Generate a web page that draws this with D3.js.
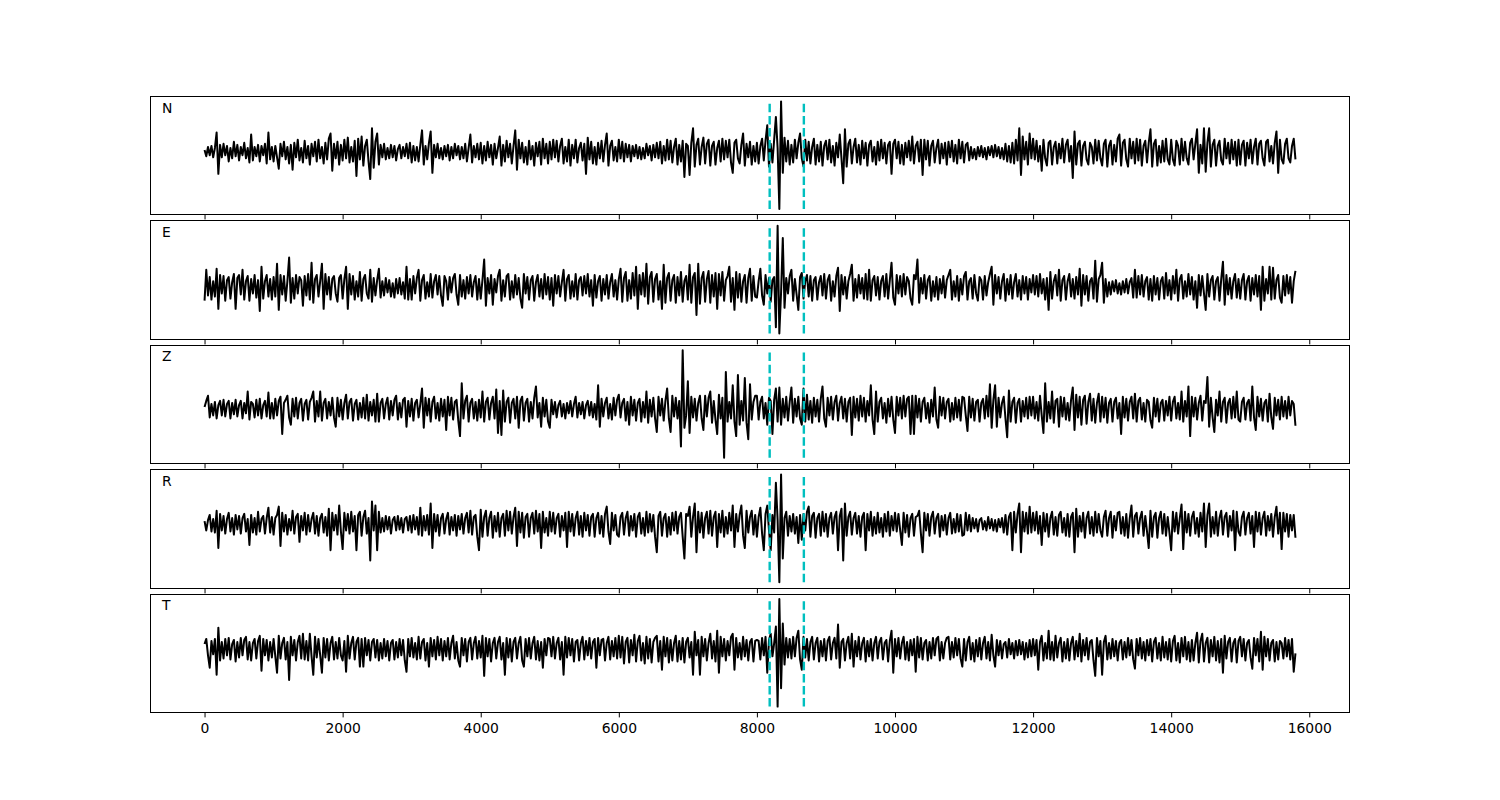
<!DOCTYPE html>
<html><head><meta charset="utf-8">
<script src="https://cdn.jsdelivr.net/npm/d3@7"></script>
<style>body{margin:0;background:#fff}svg{display:block}</style>
</head><body>
<svg id="c" width="1500" height="800"></svg>
<script>
const channels = ["N", "E", "Z", "R", "T"];
const sampleStep = 25;   // time units between stored samples
const picks = [8185, 8680];
const xTicks = [0, 2000, 4000, 6000, 8000, 10000, 12000, 14000, 16000];

// each row = 1000 time units (40 samples); last row 15000..15800
const rowsN = [
 [2,-4,5,-3,6,-5,4,19,-21,7, -5,8,-3,6,-9,4,-6,10,-4,7, -8,5,-3,9,-6,4,-10,17,-8,5, -4,7,-9,6,-3,8,-11,19,-7,5],
 [-9,6,-5,-16,8,-4,10,-7,5,-11, 7,-17,9,-5,12,-8,4,-10,11,-6, 6,-12,8,-4,10,-9,12,-6,5,-11, 9,-7,13,18,-18,8,-6,10,-12,7],
 [-8,12,-6,14,-10,5,-9,11,-23,13, -7,15,-13,6,12,-9,-26,23,-15,10, 18,-12,7,-5,8,-7,4,-6,7,-5, 6,-8,3,7,-6,5,-4,8,-6,9],
 [-10,6,-8,5,-9,7,21,-12,6,-7, 9,20,-20,7,-5,8,-6,4,-7,6, -4,7,-8,5,-6,8,-3,6,-7,5, -6,8,-9,4,17,-10,6,-5,8,-7],
 [9,-11,6,-8,10,-5,7,-12,8,-6, 4,15,-13,7,-9,11,-5,8,-11,6, 21,-17,12,-6,9,-10,5,-12,11,-7, 6,-13,9,-4,10,-12,13,-6,8,-11],
 [10,-7,12,-5,11,-9,6,13,-11,5, -9,12,-13,7,-6,12,-10,4,9,-8, 8,-21,14,-7,10,-11,5,-12,9,-6, 11,-9,7,18,-13,6,11,-8,5,-9],
 [12,-6,10,-9,8,-5,7,-9,6,-4, 7,-6,5,-7,4,-6,8,-3,6,-8, 7,-5,9,-6,10,-11,6,-8,12,-7, 11,-10,5,13,-12,7,-9,11,-24,8],
 [6,-22,9,23,-14,7,13,-12,5,14, -11,8,12,-13,6,10,-12,4,11,-9, 13,-7,11,-5,12,-10,-20,9,12,-6, -11,7,18,-13,8,-5,10,-12,6,-9],
 [9,-11,6,13,-8,11,26,-14,8,-10, 12,34,4,-55,49,-20,14,-9,11,-12, 7,-10,12,-6,9,18,-6,-14,12,-8, 10,-11,5,13,-12,7,-9,10,-13,6],
 [11,-7,12,-10,6,-13,9,-5,17,-6, -30,22,-14,8,12,-11,5,13,-10,7, -12,11,-6,9,-13,7,11,-9,5,-12, 10,-8,12,-6,9,-11,7,10,-21,8],
 [12,-6,10,-11,7,-12,9,-5,11,-8, 15,-11,6,10,-9,12,-22,12,-7,11, -13,6,11,-10,4,12,-11,8,-6,9, -12,10,-5,11,-9,7,-11,12,-6,10],
 [-10,7,9,-8,5,-6,3,-7,5,-4, 6,-5,4,-7,5,-3,6,-5,7,-4, 5,-6,4,-7,8,-9,6,-10,9,-11, 12,-8,23,-22,15,-7,10,-12,18,-6],
 [13,-7,11,-9,6,-18,12,-6,-13,9, 11,-12,5,10,-11,8,-6,13,-10,7, 12,-9,6,-25,20,-12,8,11,-13,6, 10,-7,-12,9,5,-11,12,-8,11,-6],
 [-13,8,12,-14,6,11,-12,7,-9,13, 17,-13,9,12,-7,-14,13,-6,10,-11, 13,-8,12,-13,6,11,-10,9,22,-14, 8,12,-13,6,-10,11,-9,13,-7,-12],
 [12,-7,-13,11,6,-12,13,-8,10,-6, -12,9,13,-7,8,22,-20,7,-11,23, -19,9,23,-14,7,12,-13,6,11,-8, -12,13,-6,9,-11,12,-7,10,-13,12],
 [-12,7,11,-13,9,-6,12,-11,5,13, -12,8,11,-6,-13,10,12,-9,6,-11, 9,20,-20,12,-7,-11,8,13,-6,-10, 6,13,-7]
];
const rowsE = [
 [-13,17,-8,10,-12,6,-9,18,-21,12, -6,11,-13,7,10,-11,5,13,-21,9, 12,-7,17,-12,6,11,-13,8,-6,12, -10,7,-23,20,-11,6,12,-9,8,-12],
 [10,-9,23,-22,12,-7,11,-13,6,29, -15,9,-11,12,-6,10,7,-18,11,-8, 13,-12,24,-15,8,12,-9,6,23,-21, 13,-7,10,-12,8,11,-6,-14,9,12],
 [-11,8,20,-21,13,-7,11,-12,6,-9, 15,-13,8,12,-6,-11,17,-14,9,-8, 7,18,-10,6,-8,9,-5,7,-9,4, -10,8,-6,9,-7,5,-11,20,-12,8],
 [-12,11,-6,9,17,-13,7,12,-11,5, -9,13,-10,6,12,-7,11,-8,-18,11, 6,-12,10,-5,9,13,-7,-17,12,-9, 7,-11,10,-6,12,-9,5,11,-12,8],
 [-11,7,27,-18,9,-6,12,-17,8,-5, 11,17,-13,7,-9,11,13,-12,6,-10, 12,-7,9,-11,-20,13,-6,10,-12,7, 11,-13,5,12,-9,8,-11,13,-7,10],
 [-12,9,-18,12,-6,11,-9,5,17,-13, 8,12,-11,6,-9,13,-12,7,10,-8, 11,-6,13,-9,7,-18,12,-10,6,11, -13,8,-7,12,-11,5,13,-9,7,-12],
 [8,18,-14,9,15,-13,7,-11,14,-8, 20,-21,12,-7,14,-9,23,-16,10,15, -14,8,13,-12,6,-21,22,-15,9,14, -13,7,12,-15,10,-8,15,-14,6,11],
 [-12,22,-15,10,14,-27,23,-16,9,15, -14,8,16,-15,12,-9,14,-21,13,-8, 15,-13,7,11,20,-14,9,-22,15,-10, 13,-14,6,12,-15,9,18,-13,11,-9],
 [-10,6,18,-8,-17,12,-6,9,-14,7, 10,-39,60,-45,-5,48,-20,9,-6,11, 17,-13,8,-7,-22,10,14,-11,6,12, -9,11,-13,7,10,-12,5,11,-8,13],
 [-11,7,12,-13,6,-9,11,19,-23,12, -7,10,-11,6,13,22,-13,8,-10,12, -6,9,-11,13,-12,17,-13,7,11,-8, 10,-12,6,11,-9,13,-11,7,24,-10],
 [-17,12,-6,11,-9,13,-7,10,6,-11, -17,12,8,27,-15,9,-6,12,-11,7, 11,-13,6,-9,10,-12,8,-6,11,-10, 7,12,17,-12,6,-9,11,-13,8,-7],
 [11,15,-12,6,9,-11,12,-6,-13,10, 7,-12,11,-8,5,13,20,-17,12,-6, 10,-11,6,13,-13,8,-7,12,-11,5, 13,-9,7,-12,11,-6,10,-12,8,-5],
 [12,-7,11,-9,13,-6,8,-12,9,-22, 15,-11,6,12,-8,17,-13,7,11,-12, 6,13,-9,8,-11,10,-7,18,-18,12, -7,11,-13,6,9,-11,26,-14,8,12],
 [24,-15,8,-9,5,-7,6,-4,7,-6, 4,-7,6,-5,8,-6,5,9,-10,17, -10,11,-7,12,-9,6,10,-12,8,-13, 11,-7,9,-12,6,10,-11,14,-8,7],
 [-12,11,-6,17,-13,8,12,-11,6,-9, 13,-7,10,-12,6,-20,12,-8,11,-6, -22,13,-9,7,11,-12,6,10,-13,8, 25,-17,12,-7,9,-11,6,13,-10,8],
 [-11,7,13,-12,6,11,-13,9,-7,12, -9,11,-22,20,-13,8,-6,20,-12,19, -11,7,12,-10,-15,11,-8,12,-6,10, -15,6,16]
];
const rowsZ = [
 [2,8,13,-8,5,-6,7,-9,4,8, -6,9,-7,5,8,-9,6,-5,9,-7, 4,8,-9,6,-4,17,-10,7,5,-8, 9,-6,10,-9,4,8,-7,16,-9,6],
 [-9,10,-6,8,12,-24,6,9,13,-8, -15,10,-7,11,-9,6,10,-11,5,9, -10,7,11,17,-12,8,-7,17,-11,6, 10,-9,7,-6,11,-8,-17,11,-7,9],
 [-10,6,14,-9,7,10,-11,5,9,-10, 6,-8,11,-9,14,-11,7,-6,9,-12, 15,-12,6,10,-9,5,11,-10,8,-6, 9,13,-10,6,-8,9,11,-17,8,-7],
 [10,-11,6,9,-8,5,20,-18,11,-6, 10,-12,7,12,-9,6,-11,10,-7,9, -20,12,-6,11,-10,7,9,-11,-26,25, -9,8,13,-12,6,10,-9,7,-11,9],
 [-8,17,-12,7,11,-10,6,12,-9,19, -23,8,-25,18,-12,7,11,-13,6,10, -9,12,-18,8,12,-11,6,10,-12,7, -9,11,22,-8,6,-17,11,-7,9,-12],
 [-18,9,-5,7,-8,4,8,-7,5,-9, 6,-4,8,-7,5,12,-8,6,-5,7, -9,4,8,-6,7,-8,5,-10,23,-17, 10,-7,6,11,-9,5,-10,11,-6,9],
 [14,-8,6,10,-11,7,-15,12,-6,9, -11,6,10,-12,7,-8,17,-13,9,-7, 11,-9,-22,12,-6,10,-11,8,20,-9, -22,13,-7,11,-9,8,-36,57,-18,-6],
 [27,-23,12,-8,10,-11,6,13,-9,-20, 13,-7,11,17,-13,8,-10,-24,14,-9, 11,-47,36,-12,7,-9,23,-12,-26,33, -15,8,-11,30,-13,-29,24,-10,7,13],
 [13,-10,7,12,-9,6,-15,11,8,-24, 9,20,-12,21,-15,10,-8,12,-11,7, 21,-13,10,-7,12,-9,-15,20,-12,14, -10,8,-13,11,-7,9,-12,10,22,-9],
 [-17,11,-6,12,-10,7,13,-11,6,12, -9,10,-12,7,11,-25,12,-8,10,-11, 13,-7,11,-12,8,-6,23,-10,-24,17, -12,7,11,-9,6,-13,10,-7,12,-10],
 [-23,12,-6,11,-9,13,-7,10,12,-24, 13,-24,13,-8,10,-12,7,11,-9,6, -13,9,-7,21,-10,-18,12,-6,11,-9, 7,10,-12,6,-10,11,-8,9,-11,12],
 [11,-6,-21,12,-8,10,-11,7,9,-12, 6,10,-9,13,-7,24,-18,9,23,-17, 11,-8,6,12,-9,-27,18,-12,7,11, -13,6,10,-12,8,-7,11,-9,12,-6],
 [12,-9,7,-11,13,-6,-23,25,-12,7, -9,17,-13,8,10,-17,12,-7,11,-10, 6,-11,9,21,-20,14,-8,12,-15,9, 13,-14,7,15,-11,10,-13,6,15,-12],
 [12,-8,11,-13,6,10,-12,7,11,-9, 6,-24,12,-8,10,-11,7,12,-9,15, -12,8,11,-10,6,-12,9,7,-11,-18, 11,-7,10,-12,6,9,-11,8,-6,12],
 [-11,7,12,-9,6,-10,17,-12,8,-7, 22,-26,12,-7,11,-10,6,13,-11,8, 6,31,-17,11,-8,-22,9,-6,17,-12, 7,11,-13,6,10,-9,12,-8,17,-10],
 [-12,7,11,-10,6,9,-11,22,-8,-20, 12,-7,10,-11,6,9,-12,15,-8,-19, 11,-6,9,-10,12,-7,8,-9,12,-6, 8,5,-16]
];
const rowsR = [
 [3,-6,4,9,-7,5,-8,13,-23,10, -6,8,-9,5,11,-7,6,-10,9,-5, 8,-9,6,10,-7,5,-20,9,-8,6, -10,12,-7,5,8,-9,6,16,-8,7],
 [-10,6,9,17,-21,11,-7,9,-10,5, -6,13,-9,7,10,-17,8,-6,11,-10, 9,-7,5,11,-9,8,-11,6,10,-8, 7,-11,15,-25,11,-6,9,-10,18,-7],
 [-24,11,-6,10,-9,12,-7,8,-25,9, 12,-11,7,13,-9,6,-35,22,-6,18, -25,12,-8,6,-7,8,-5,7,-9,4, 7,-6,8,-5,6,-8,5,7,-6,8],
 [-8,9,-5,7,-10,16,-11,8,-6,9, -10,20,-23,10,-7,9,-11,6,10,-9, 5,11,-10,7,-6,9,-11,8,-5,10, -9,6,11,-8,13,-10,7,9,-12,-25],
 [14,-12,7,13,-11,6,12,-13,8,-7, 11,-12,6,10,-11,13,-6,12,-9,7, 16,-21,12,-8,11,-13,7,10,-12,6, 11,-9,13,-7,10,-23,12,-8,6,-11],
 [12,-7,11,-9,6,10,-12,8,-6,11, -22,12,-7,10,-11,6,12,-10,8,-12, 11,-6,9,-11,7,10,-12,6,11,-9, 8,-12,10,17,-7,-19,11,-6,9,-10],
 [-12,7,11,-10,6,12,-11,8,-6,10, -12,7,11,-9,6,-11,12,-8,10,-7, 9,-12,-27,8,12,-11,6,10,-12,7, -10,11,-6,12,-9,7,11,-12,-33,10],
 [8,17,-12,7,20,-27,12,-8,11,-13, 6,12,-9,13,-11,7,12,-22,10,-8, 13,-12,7,-9,11,-6,18,-22,10,-7, 9,18,-11,-23,13,-8,7,13,-10,9],
 [-12,7,16,-9,-25,10,18,-6,-25,9, -8,40,4,-56,48,-33,6,12,-11,8, -7,10,-9,7,-18,9,-15,10,-6,12, 17,-12,8,11,-13,6,10,-11,12,-7],
 [10,-12,6,11,-9,7,12,-25,8,15, -35,20,-11,7,12,-10,6,11,-9,8, -12,7,11,-25,10,-6,12,-11,7,-9, 11,-8,6,-12,10,-7,12,-11,8,-6],
 [11,-7,10,-6,-20,11,-8,9,-12,6, 10,-11,7,8,13,-9,-27,11,-6,10, -11,7,12,-9,6,10,-12,8,-6,9, -10,6,11,-9,5,-8,10,-7,9,-11],
 [-10,11,-6,9,-7,6,-4,5,-7,4, 6,-5,3,-6,7,-4,5,-6,4,-7, 5,-3,6,-8,9,-10,7,11,-25,12, -8,10,20,-27,12,-7,11,-9,17,-8],
 [11,-6,12,-9,8,-20,11,-7,10,-12, 6,12,-10,7,-11,9,12,-8,6,-11, 10,-12,7,11,-27,15,-12,8,-7,11, -13,6,12,-9,7,-11,12,-8,10,-6],
 [-12,7,13,-11,6,12,-13,8,-6,11, 12,-9,7,-11,10,-13,6,18,-12,8, 11,-9,6,12,-11,8,-7,-23,13,-12, 7,11,-13,6,12,-9,10,-11,7,-8],
 [-25,12,-7,11,-9,6,19,-24,12,-8, 10,-11,7,12,-9,6,-12,11,-7,20, -22,9,20,-12,7,-9,12,-11,6,13, -10,7,11,-12,8,-6,13,-25,12,-7],
 [-11,7,12,-10,6,11,-9,8,-22,12, -7,11,-10,6,12,-11,8,-6,10,-12, 7,17,-9,11,-24,11,-7,10,-12,9, -6,9,-13]
];
const rowsT = [
 [5,10,-6,-18,8,-5,10,-25,21,-11, 7,-9,10,-6,11,-10,5,9,-12,7, -8,11,-6,9,12,-10,7,-11,6,10, -9,8,13,-21,10,-6,9,-11,7,-8],
 [10,-7,-23,13,-9,6,11,-10,7,-30, 12,-6,9,-11,7,13,-9,15,-10,8, -11,15,-7,-25,12,-8,10,-6,-23,11, -8,10,-11,6,12,-10,7,-9,11,-6],
 [-11,8,-22,13,-9,6,12,-10,7,11, -17,10,-17,11,-6,9,-11,7,10,-8, 9,-11,6,-9,10,-7,8,-11,6,9, -10,7,-8,10,-6,9,-11,-22,10,-7],
 [11,-8,6,-10,12,-9,7,10,-11,6, -17,11,-7,9,-10,12,-6,10,-11,8, -7,11,-10,6,13,-9,7,-11,-17,11, -6,10,-12,7,11,-10,6,12,-9,8],
 [-8,13,-26,11,-7,10,-12,6,11,-9, 7,12,-10,6,-25,11,-8,10,-12,7, 11,-9,6,12,-11,-17,10,-7,11,-9, 6,12,-10,8,-11,7,-18,10,-6,11],
 [10,-7,12,-9,6,11,-10,7,-25,12, -8,11,-6,10,-12,7,9,-11,6,12, -10,8,-6,11,-9,7,10,-18,11,-6, 9,10,-11,6,12,-10,8,-7,11,-9],
 [13,-8,12,-14,7,11,-13,9,-6,14, -12,8,13,-11,6,-14,12,-9,10,-13, 7,11,13,-12,8,-20,12,-7,11,-13, 9,-11,6,13,-12,8,-10,11,-13,7],
 [11,-8,7,-25,17,-6,9,-25,12,-7, 10,-11,6,15,-9,8,-12,18,-23,12, -7,10,-11,8,-6,12,15,-20,11,-8, 6,-10,12,-7,9,-11,7,10,-12,8],
 [9,8,-10,11,-6,12,-23,9,15,-7, 6,22,-56,49,-38,25,-15,11,-8,10, -9,12,-7,11,18,-10,-20,12,-8,10, -11,7,12,-10,6,11,-12,8,-7,10],
 [-11,8,12,-10,6,11,-9,24,-18,7, 10,-11,6,12,-9,15,-17,8,-7,12, -10,6,11,-12,8,-7,10,-11,6,12, -9,7,11,-10,6,9,-12,8,18,-23],
 [10,-7,11,-9,6,12,-10,7,-11,9, -6,10,-22,12,-8,11,-10,6,9,-11, 7,-9,11,-6,10,12,-11,7,-9,6, 11,12,-10,7,-8,11,-6,10,-9,-17],
 [10,-11,7,12,-10,6,-12,9,-7,11, -10,6,12,-9,7,-11,14,-6,-17,9, -6,8,-9,5,7,-8,10,-5,6,-9, 8,-6,9,-5,7,-10,6,-8,9,-7],
 [10,-6,9,-20,7,13,-11,6,-9,18, -10,7,-11,13,-8,6,11,-12,7,-9, 10,-11,6,12,-10,8,-7,15,-12,9, -6,11,-10,7,9,-11,-26,11,-7,8],
 [-25,7,13,-10,6,-9,10,-7,8,-11, 6,9,-10,7,-8,11,-6,9,-10,-19, 10,-6,11,-9,7,-11,9,-6,10,-12, 7,11,-9,6,-11,12,-8,7,-10,10],
 [-12,8,13,-11,6,-13,11,-7,12,-10, 7,-12,9,-11,6,16,-13,8,15,-12, 6,11,-13,9,-7,12,-11,8,-13,10, -23,13,-9,7,11,-12,6,10,-13,8],
 [12,-7,10,-11,6,9,-8,-19,11,-6, 10,-12,17,-20,12,-7,10,-11,6,9, -12,7,-10,8,6,-9,11,-7,9,-10, 10,-22,-4]
];
const allRows = [rowsN, rowsE, rowsZ, rowsR, rowsT];
const traceN = rowsN.flat(), traceE = rowsE.flat(), traceZ = rowsZ.flat(),
      traceR = rowsR.flat(), traceT = rowsT.flat();
const traces = [traceN, traceE, traceZ, traceR, traceT];

const svg = d3.select("#c");
const FONT = "DejaVu Sans, sans-serif";
const figL = 150, figR = 1350, figT = 96, figB = 712;
const hspace = 0.05;
const ph = (figB - figT) / (5 + 4 * hspace);
const gap = ph * hspace;

const n = traceN.length;
const xMin = 0, xMax = (n - 1) * sampleStep;
const xPad = 0.05 * (xMax - xMin);
const x = d3.scaleLinear().domain([xMin - xPad, xMax + xPad]).range([figL, figR]);

// sanity check on row lengths
const bad = [];
allRows.forEach((rows, k) => rows.forEach((r, j) => {
  const want = j === rows.length - 1 ? 33 : 40;
  if (r.length !== want) bad.push(channels[k] + j + ":" + r.length);
}));
if (bad.length) svg.append("text").attr("x", 10).attr("y", 20).text("len " + bad.join(" "));

traces.forEach((data, k) => {
  const pt = figT + k * (ph + gap);
  const pb = pt + ph;
  const [mn, mx] = d3.extent(data);
  const yPad = 0.05 * (mx - mn);
  const y = d3.scaleLinear().domain([mn - yPad, mx + yPad]).range([pb, pt]);
  const g = svg.append("g");

  const clipId = "clip" + k;
  svg.append("clipPath").attr("id", clipId).append("rect")
    .attr("x", figL).attr("y", pt).attr("width", figR - figL).attr("height", ph);

  const line = d3.line().x((d, i) => x(i * sampleStep)).y(d => y(d));
  g.append("path").datum(data).attr("d", line)
    .attr("clip-path", `url(#${clipId})`)
    .attr("fill", "none").attr("stroke", "#000").attr("stroke-width", 2)
    .attr("stroke-linejoin", "round");

  picks.forEach(p => {
    g.append("line")
      .attr("x1", x(p)).attr("x2", x(p))
      .attr("y1", y(mn)).attr("y2", y(mx))
      .attr("stroke", "#00bfbf").attr("stroke-width", 2.4)
      .attr("stroke-dasharray", "8.5,3.6");
  });

  g.append("rect").attr("x", figL + 0.5).attr("y", Math.round(pt) + 0.5)
    .attr("width", figR - figL - 1).attr("height", Math.round(pb) - Math.round(pt))
    .attr("fill", "none").attr("stroke", "#000").attr("stroke-width", 1);

  const axis = d3.axisBottom(x).tickValues(xTicks).tickSize(4.9).tickPadding(5.8)
    .tickFormat(k === traces.length - 1 ? d3.format("d") : () => "");
  const ag = svg.append("g").attr("transform", `translate(0,${Math.round(pb) + 0.5})`).call(axis);
  ag.select(".domain").remove();
  ag.selectAll(".tick line").attr("stroke", "#000").attr("stroke-width", 1);
  ag.selectAll(".tick text").attr("fill", "#000").style("font-family", FONT).style("font-size", "13.9px");

  svg.append("text").attr("x", figL + 12).attr("y", pt + 16.5)
    .style("font-family", FONT).style("font-size", "13.9px").attr("fill", "#000")
    .text(channels[k]);
});
</script>
</body></html>
